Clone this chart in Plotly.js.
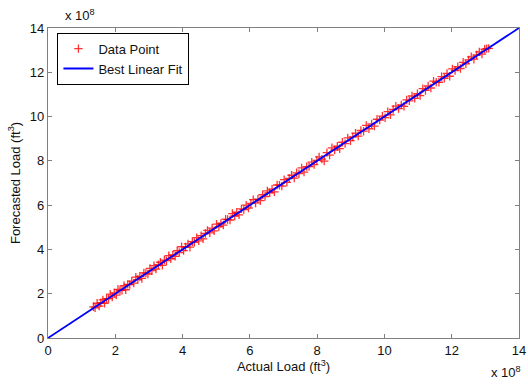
<!DOCTYPE html>
<html>
<head>
<meta charset="utf-8">
<script src="https://cdn.plot.ly/plotly-3.0.1.min.js"></script>
<style>html,body{margin:0;padding:0;background:#fff;}#chart{width:528px;height:385px;}</style>
</head>
<body>
<div id="chart"></div>
<script>
// Values in units of 10^8 ft^3
var actualLoad = [
1.35,1.40,1.46,1.52,1.57,1.63,1.68,1.74,1.80,1.85,
1.91,1.97,2.03,2.08,2.14,2.20,2.26,2.31,2.37,2.43,
2.49,2.55,2.61,2.67,2.73,2.79,2.85,2.91,2.97,3.03,
3.09,3.15,3.21,3.28,3.34,3.40,3.46,3.52,3.59,3.65,
3.71,3.78,3.84,3.90,3.97,4.03,4.09,4.16,4.22,4.29,
4.35,4.42,4.48,4.55,4.61,4.68,4.74,4.81,4.88,4.94,
5.01,5.08,5.14,5.21,5.28,5.34,5.41,5.48,5.55,5.61,
5.68,5.75,5.82,5.89,5.96,6.03,6.10,6.17,6.24,6.31,
6.38,6.45,6.52,6.59,6.66,6.73,6.81,6.88,6.95,7.02,
7.10,7.17,7.24,7.32,7.39,7.46,7.54,7.61,7.69,7.76,
7.84,7.91,7.99,8.06,8.14,8.21,8.29,8.37,8.44,8.52,
8.60,8.67,8.75,8.83,8.91,8.99,9.06,9.14,9.22,9.30,
9.38,9.46,9.54,9.62,9.70,9.78,9.86,9.94,10.02,10.10,
10.18,10.26,10.34,10.42,10.50,10.58,10.66,10.74,10.82,10.90,
10.98,11.06,11.14,11.22,11.30,11.38,11.46,11.54,11.62,11.70,
11.78,11.86,11.94,12.02,12.10,12.18,12.26,12.34,12.42,12.50,
12.58,12.66,12.74,12.82,12.90,12.98,13.04,13.10
];
var forecastLoad = [
1.41,1.36,1.57,1.44,1.59,1.72,1.57,1.78,1.78,1.98,
1.85,2.04,1.94,2.20,2.15,2.15,2.36,2.18,2.42,2.41,
2.57,2.48,2.75,2.64,2.78,2.69,2.94,2.93,2.89,3.14,
3.04,3.27,3.11,3.31,3.42,3.28,3.52,3.49,3.72,3.58,
3.75,3.69,3.94,3.86,4.12,3.95,4.11,4.25,4.10,4.35,
4.32,4.53,4.39,4.62,4.48,4.72,4.86,4.75,4.96,4.84,
5.14,5.03,5.17,5.10,5.37,5.35,5.33,5.62,5.51,5.68,
5.56,5.83,5.80,6.00,5.87,6.08,6.25,6.10,6.27,6.20,
6.47,6.39,6.64,6.56,6.72,6.60,6.91,6.90,6.86,7.15,
7.03,7.21,7.35,7.22,7.46,7.42,7.68,7.49,7.74,7.74,
7.94,7.83,8.02,8.18,8.08,7.99,8.37,8.26,8.59,8.49,
8.66,8.55,8.84,8.78,9.04,8.91,9.08,9.25,9.12,9.37,
9.34,9.60,9.45,9.67,9.57,9.88,9.84,10.02,9.95,10.22,
10.08,10.32,10.47,10.36,10.53,10.46,10.75,10.71,10.93,10.82,
11.03,10.95,11.26,11.18,11.38,11.29,11.60,11.55,11.55,11.80,
11.73,11.95,11.82,12.15,12.08,12.25,12.17,12.45,12.38,12.56,
12.70,12.59,12.78,12.92,12.82,13.04,13.07,13.08
];
var fitX = [0, 14];
var fitY = [0, 14];
var tickVals = [0,2,4,6,8,10,12,14];
var tickText = ['0','2','4','6','8','10','12','14'];

var font = {family: 'Arial, "Liberation Sans", sans-serif', size: 13, color: '#111'};
var axisCommon = {
  range: [0, 14], tickvals: tickVals, ticktext: tickText,
  ticks: 'inside', ticklen: 4, tickcolor: '#808080', tickwidth: 1,
  showline: true, linecolor: '#808080', linewidth: 1.2, mirror: 'ticks',
  showgrid: false, zeroline: false, tickfont: font, fixedrange: true
};

var traces = [
  {x: actualLoad, y: forecastLoad, mode: 'markers', type: 'scatter', name: 'Data Point',
   marker: {symbol: 'cross-thin', size: 6, line: {color: 'rgba(255,0,0,0.8)', width: 1.3}, color: 'red'}},
  {x: fitX, y: fitY, mode: 'lines', type: 'scatter', name: 'Best Linear Fit',
   line: {color: '#0000ff', width: 1.8}}
];

var layout = {
  width: 528, height: 385,
  margin: {l: 48, r: 9, t: 28, b: 47},
  paper_bgcolor: '#fff', plot_bgcolor: '#fff',
  font: font,
  showlegend: true,
  legend: {x: 0.02, y: 0.985, xanchor: 'left', yanchor: 'top',
    bgcolor: '#fff', bordercolor: '#000', borderwidth: 1,
    font: font, tracegroupgap: 0, itemwidth: 30},
  xaxis: Object.assign({}, axisCommon, {
    title: {text: 'Actual Load (ft<sup>3</sup>)', font: font, standoff: 4}
  }),
  yaxis: Object.assign({}, axisCommon, {
    title: {text: 'Forecasted Load (ft<sup>3</sup>)', font: font, standoff: 6}
  }),
  annotations: [
    {xref: 'paper', yref: 'paper', x: 0, y: 1, xanchor: 'left', yanchor: 'bottom', yshift: 3, xshift: 15,
     text: 'x 10<sup>8</sup>', showarrow: false, font: font},
    {xref: 'paper', yref: 'paper', x: 1, y: 0, xanchor: 'right', yanchor: 'top', yshift: -24, xshift: 4,
     text: 'x 10<sup>8</sup>', showarrow: false, font: font}
  ]
};

Plotly.newPlot('chart', traces, layout, {displayModeBar: false, staticPlot: true});
</script>
</body>
</html>
